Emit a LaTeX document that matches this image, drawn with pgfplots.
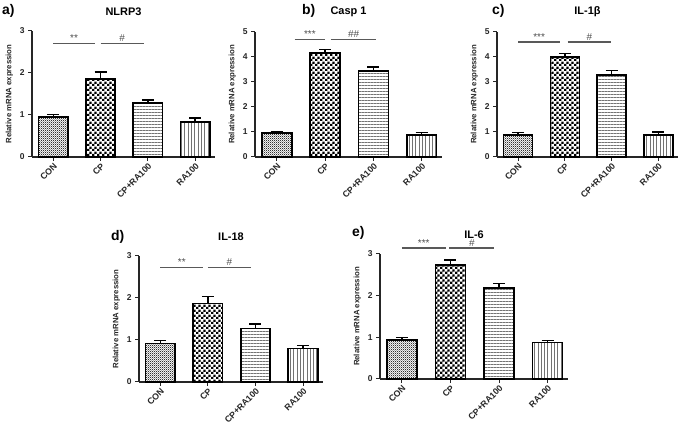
\documentclass[border=0pt]{standalone}
\usepackage{fontspec}
\setmainfont{Liberation Sans}
\usepackage{pgfplots}
\pgfplotsset{compat=1.18}
\usetikzlibrary{patterns,patterns.meta}

\pgfdeclarepatternformonly{checkerfine}{\pgfqpoint{0pt}{0pt}}{\pgfqpoint{2.2pt}{2.2pt}}{\pgfqpoint{2.2pt}{2.2pt}}{%
  \pgfpathrectangle{\pgfqpoint{0pt}{0pt}}{\pgfqpoint{1.1pt}{1.1pt}}%
  \pgfpathrectangle{\pgfqpoint{1.1pt}{1.1pt}}{\pgfqpoint{1.1pt}{1.1pt}}%
  \pgfusepath{fill}}
\pgfdeclarepatternformonly{checkercoarse}{\pgfqpoint{0pt}{0pt}}{\pgfqpoint{5.2pt}{5.2pt}}{\pgfqpoint{5.2pt}{5.2pt}}{%
  \pgfpathrectangle{\pgfqpoint{0pt}{0pt}}{\pgfqpoint{2.6pt}{2.6pt}}%
  \pgfpathrectangle{\pgfqpoint{2.6pt}{2.6pt}}{\pgfqpoint{2.6pt}{2.6pt}}%
  \pgfusepath{fill}}

\tikzset{sigtxt/.style={midway, above, inner sep=1bp, font=\fontsize{10}{10}\selectfont, text=black!70}}

\pgfplotsset{
  panel/.style={
    scale only axis, ybar, bar shift=0pt, bar width=0.62,
    xmin=-0.45, xmax=3.42, ymin=0,
    axis x line=bottom, axis y line=left,
    axis line style={-, line width=1.3bp, black!85},
    xtick={0,1,2,3}, xticklabels={CON,CP,CP+RA100,RA100},
    x tick label style={rotate=45, anchor=north east, inner sep=1bp,
      font=\bfseries\fontsize{8.8}{10}\selectfont, text=black!85},
    y tick label style={font=\bfseries\fontsize{8.5}{10}\selectfont, text=black!85},
    tick align=outside, major tick length=4bp,
    xtick style={line width=1bp, black!85, draw},
    ytick style={line width=1bp, black!85},
    ylabel={Relative mRNA expression},
    ylabel style={font=\bfseries\fontsize{7.8}{9}\selectfont, text=black!85},
    title style={font=\bfseries\fontsize{11}{12}\selectfont, yshift=6bp},
    clip=false,
    /pgf/number format/assume math mode=true,
  },
  barstyle/.style={draw=black, line width=1.6bp, mark=none,
    error bars/y dir=plus, error bars/y explicit,
    error bars/error bar style={line width=1.4bp, black},
    error bars/error mark options={rotate=90, mark size=6bp, line width=1.4bp, black}},
  gCON/.style={barstyle, pattern=checkerfine, pattern color=black!80},
  gCP/.style={barstyle, pattern=checkercoarse},
  gCPRA/.style={barstyle, pattern={Lines[angle=0,distance=3bp,line width=0.7bp]}, pattern color=black!55},
  gRA/.style={barstyle, pattern={Lines[angle=90,distance=3.3bp,line width=0.7bp]}, pattern color=black!55},
  sig/.style={sharp plot, line width=1.5bp, black!65, mark=none},
}

\begin{document}
\begin{tikzpicture}
\path (0,0) rectangle (685bp,430bp);

% a) NLRP3
\begin{axis}[panel, at={(32bp,273bp)}, anchor=south west, width=183bp, height=126bp,
  ymax=3, ytick={0,1,2,3}, title={NLRP3}]
\addplot[gCON] coordinates {(0,0.95) +- (0,0.06)};
\addplot[gCP] coordinates {(1,1.85) +- (0,0.17)};
\addplot[gCPRA] coordinates {(2,1.29) +- (0,0.07)};
\addplot[gRA] coordinates {(3,0.84) +- (0,0.09)};
\addplot[sig] coordinates {(0,2.7) (0.88,2.7)} node[sigtxt] {**};
\addplot[sig] coordinates {(1.0,2.7) (1.91,2.7)} node[sigtxt] {\#};
\end{axis}

% b) Casp 1
\begin{axis}[panel, at={(255bp,273bp)}, anchor=south west, width=187bp, height=125bp,
  ymax=5, ytick={0,1,2,3,4,5}, title={Casp 1}]
\addplot[gCON] coordinates {(0,0.96) +- (0,0.07)};
\addplot[gCP] coordinates {(1,4.17) +- (0,0.12)};
\addplot[gCPRA] coordinates {(2,3.43) +- (0,0.17)};
\addplot[gRA] coordinates {(3,0.87) +- (0,0.10)};
\addplot[sig] coordinates {(0.37,4.69) (1.0,4.69)} node[sigtxt] {***};
\addplot[sig] coordinates {(1.12,4.69) (2.06,4.69)} node[sigtxt] {\#\#};
\end{axis}

% c) IL-1beta
\begin{axis}[panel, at={(497bp,273bp)}, anchor=south west, width=181bp, height=125bp,
  ymax=5, ytick={0,1,2,3,4,5}, title={IL-1β}]
\addplot[gCON] coordinates {(0,0.89) +- (0,0.08)};
\addplot[gCP] coordinates {(1,4.00) +- (0,0.13)};
\addplot[gCPRA] coordinates {(2,3.27) +- (0,0.20)};
\addplot[gRA] coordinates {(3,0.89) +- (0,0.11)};
\addplot[sig] coordinates {(0,4.6) (0.9,4.6)} node[sigtxt] {***};
\addplot[sig] coordinates {(1.06,4.6) (1.99,4.6)} node[sigtxt] {\#};
\end{axis}

% d) IL-18
\begin{axis}[panel, at={(139bp,48bp)}, anchor=south west, width=184bp, height=126bp,
  ymax=3, ytick={0,1,2,3}, title={IL-18}]
\addplot[gCON] coordinates {(0,0.92) +- (0,0.07)};
\addplot[gCP] coordinates {(1,1.87) +- (0,0.17)};
\addplot[gCPRA] coordinates {(2,1.27) +- (0,0.11)};
\addplot[gRA] coordinates {(3,0.80) +- (0,0.07)};
\addplot[sig] coordinates {(0,2.73) (0.9,2.73)} node[sigtxt] {**};
\addplot[sig] coordinates {(1.0,2.73) (1.9,2.73)} node[sigtxt] {\#};
\end{axis}

% e) IL-6
\begin{axis}[panel, at={(380bp,51bp)}, anchor=south west, width=188bp, height=125bp,
  ymax=3, ytick={0,1,2,3}, title={IL-6}]
\addplot[gCON] coordinates {(0,0.94) +- (0,0.06)};
\addplot[gCP] coordinates {(1,2.73) +- (0,0.13)};
\addplot[gCPRA] coordinates {(2,2.18) +- (0,0.11)};
\addplot[gRA] coordinates {(3,0.88) +- (0,0.04)};
\addplot[sig] coordinates {(0,3.14) (0.9,3.14)} node[sigtxt] {***};
\addplot[sig] coordinates {(0.98,3.14) (1.9,3.14)} node[sigtxt] {\#};
\end{axis}

\node[anchor=north west, inner sep=0pt, font=\bfseries\fontsize{14}{16}\selectfont] at (2bp,426bp) {a)};
\node[anchor=north west, inner sep=0pt, font=\bfseries\fontsize{14}{16}\selectfont] at (302bp,426bp) {b)};
\node[anchor=north west, inner sep=0pt, font=\bfseries\fontsize{14}{16}\selectfont] at (492bp,426bp) {c)};
\node[anchor=north west, inner sep=0pt, font=\bfseries\fontsize{14}{16}\selectfont] at (111bp,200bp) {d)};
\node[anchor=north west, inner sep=0pt, font=\bfseries\fontsize{14}{16}\selectfont] at (352bp,204bp) {e)};
\end{tikzpicture}
\end{document}
